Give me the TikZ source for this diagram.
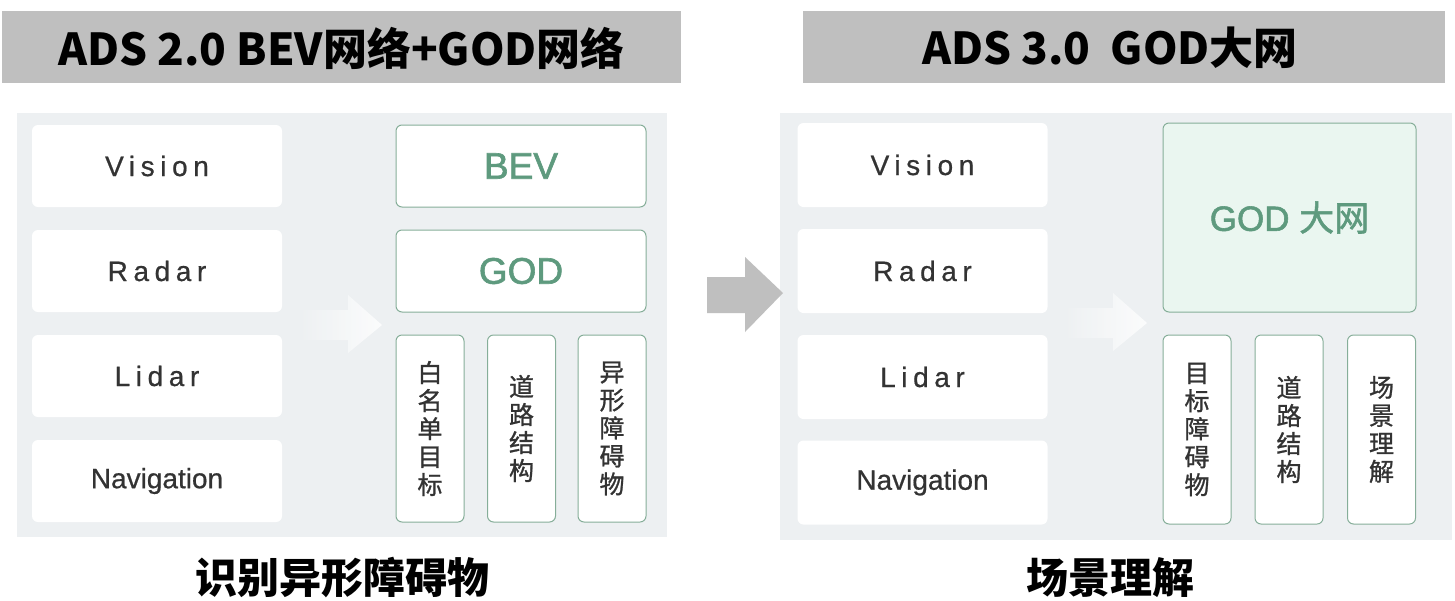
\documentclass[tikz,border=0pt]{standalone}
\usepackage{fontspec}
\setmainfont{Liberation Sans}
\newfontfamily\cjk{Noto Sans CJK SC}
\newfontfamily\cjkmed{Noto Sans CJK SC}[FakeBold=1]
\newfontfamily\spaced{Liberation Sans}[LetterSpace=20,FakeBold=0.6]
\newfontfamily\plainmed{Liberation Sans}[FakeBold=0.6]
\newfontfamily\greenmed{Liberation Sans}[FakeBold=1.6]
\newfontfamily\greencjk{Noto Sans CJK SC}[FakeBold=1.6]
\usetikzlibrary{positioning}
\definecolor{bargray}{HTML}{BFBFBF}
\definecolor{panelbg}{HTML}{EDF0F2}
\definecolor{godgreen}{HTML}{5E9A7E}
\definecolor{godline}{HTML}{86AE99}
\definecolor{godfill}{HTML}{EAF6F0}
\definecolor{labelgray}{HTML}{333333}
\definecolor{arrowgray}{HTML}{BFBFBF}
\tikzset{>=latex,
  titlebar/.style={fill=bargray,minimum height=72pt,inner sep=0pt},
  titletext/.style={font=\cjk\bfseries\fontsize{44}{48}\selectfont},
  caption/.style={font=\cjk\bfseries\fontsize{42}{46}\selectfont},
  sensor/.style={fill=white,rounded corners=6pt,minimum width=250pt,minimum height=82pt,
    text=labelgray,font=\spaced\fontsize{28}{32}\selectfont},
  netbox/.style={draw=godline,line width=1pt,fill=white,rounded corners=6pt,
    minimum width=250pt,minimum height=82pt,text=godgreen,font=\greenmed\fontsize{37}{40}\selectfont},
  taskbox/.style={draw=godline,line width=1pt,fill=white,rounded corners=6pt,
    minimum width=68pt,minimum height=187pt,align=center,text=labelgray,
    font=\cjkmed\fontsize{25}{28}\selectfont}
}

\begin{document}
\begin{tikzpicture}[x=1pt,y=-1pt]
  \useasboundingbox[fill=white] (0,0) rectangle (1455,600);
  % titles
  \node[titlebar,minimum width=679pt] (barL) at (341.5,47) {};
  \node[titletext] (titleL) at (341.5,48) {ADS 2.0 BEV网络+GOD网络};
  \node[titlebar,minimum width=642pt] (barR) at (1124,47) {};
  \node[titletext] (titleR) at (1110,48) {ADS 3.0\ \ GOD大网};
  % panels
  \fill[panelbg] (17,113) rectangle (667,537);
  \fill[panelbg] (780,113) rectangle (1452,540);
  % ADS 2.0
  \node[sensor] (visionL) at (157,166) {Vision};
  \node[sensor] (radarL) at (157,271) {Radar};
  \node[sensor] (lidarL) at (157,376) {Lidar};
  \node[sensor,font=\plainmed\fontsize{28}{32}\selectfont] (naviL) at (157,481) {Navigation};
  \node[netbox] (bev) at (521,166) {BEV};
  \node[netbox] (godL) at (521,271) {GOD};
  \node[taskbox] (whiteL) at (430,428.5) {白\\名\\单\\目\\标};
  \node[taskbox] (roadL) at (521.5,428.5) {道\\路\\结\\构};
  \node[taskbox] (oddL) at (612,428.5) {异\\形\\障\\碍\\物};
  \shade[left color=panelbg,right color=white,opacity=0.8]
    (295,310) -- (348,310) -- (348,295) -- (382,325) -- (348,353) -- (348,340) -- (295,340) -- cycle;
  \node[caption] (capL) at (342,578) {识别异形障碍物};
  % big arrow
  \fill[arrowgray] (707,277) -- (745,277) -- (745,257) -- (783,293) -- (745,332) -- (745,313) -- (707,313) -- cycle;
  % ADS 3.0
  \node[sensor,minimum height=84pt] (visionR) at (922.5,165) {Vision};
  \node[sensor,minimum height=84pt] (radarR) at (922.5,271) {Radar};
  \node[sensor,minimum height=84pt] (lidarR) at (922.5,377) {Lidar};
  \node[sensor,minimum height=84pt,font=\plainmed\fontsize{28}{32}\selectfont] (naviR) at (922.5,482.5) {Navigation};
  \node[netbox,fill=godfill,minimum width=253pt,minimum height=189pt,
    font=\greenmed\fontsize{35}{38}\selectfont] (godR) at (1289.5,217.5) {GOD {\greencjk 大网}};
  \node[taskbox,minimum height=189pt] (targetR) at (1197,429.5) {目\\标\\障\\碍\\物};
  \node[taskbox,minimum height=189pt] (roadR) at (1289,429.5) {道\\路\\结\\构};
  \node[taskbox,minimum height=189pt] (sceneR) at (1381.5,429.5) {场\\景\\理\\解};
  \shade[left color=panelbg,right color=white,opacity=0.8]
    (1060,308) -- (1113,308) -- (1113,293) -- (1147,323) -- (1113,351) -- (1113,338) -- (1060,338) -- cycle;
  \node[caption] (capR) at (1110,578) {场景理解};
\end{tikzpicture}
\end{document}
